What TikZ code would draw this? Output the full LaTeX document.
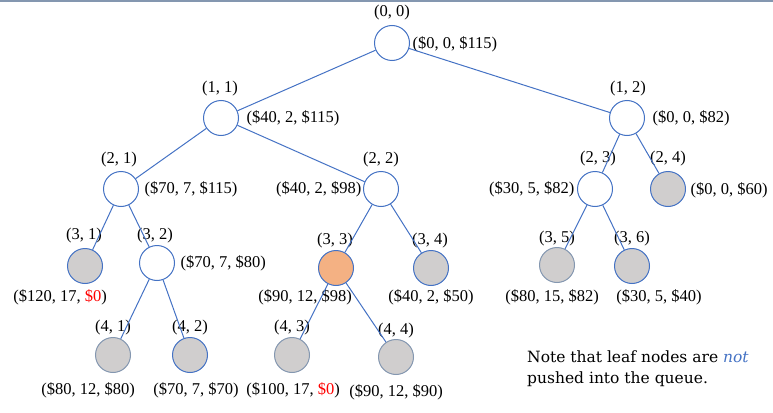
\documentclass[tikz,border=0pt]{standalone}
\usepackage{fontspec}
\setmainfont{Liberation Serif}
\newfontfamily\notefont{DejaVu Serif}
\usetikzlibrary{calc}

\definecolor{edgeblue}{HTML}{4472C4}
\definecolor{leafgray}{HTML}{D0CECE}
\definecolor{bestorange}{HTML}{F4B183}
\definecolor{rimgray}{HTML}{8497B0}

\begin{document}
\begin{tikzpicture}[x=1pt, y=-1pt, font=\fontsize{16.5}{18}\selectfont,
    vtx/.style={circle, draw=edgeblue, line width=1pt, minimum size=35pt, inner sep=0pt},
    open/.style={vtx, fill=white},
    leaf/.style={vtx, fill=leafgray},
    dimleaf/.style={leaf, draw=rimgray},
    best/.style={vtx, fill=bestorange},
    edge/.style={draw=edgeblue, line width=1pt}]

    % --- Frame ---
    \useasboundingbox (0,0) rectangle (773,412);
    \draw[rimgray, line width=2pt] (0,1) -- (773,1);

    % --- Vertices ---
    \node[open] (n00) at (392,43) {};
    \node[open] (n11) at (221,118) {};
    \node[open] (n12) at (627,118) {};
    \node[open] (n21) at (121,189) {};
    \node[open] (n22) at (381,189) {};
    \node[open] (n23) at (595,189) {};
    \node[leaf] (n24) at (668,189) {};
    \node[leaf] (n31) at (85,266) {};
    \node[open] (n32) at (157,263) {};
    \node[best] (n33) at (336,268) {};
    \node[leaf] (n34) at (431,268) {};
    \node[dimleaf] (n35) at (557,265) {};
    \node[leaf] (n36) at (632,266) {};
    \node[dimleaf] (n41) at (113,355) {};
    \node[leaf] (n42) at (190,355) {};
    \node[dimleaf] (n43) at (292,355) {};
    \node[dimleaf] (n44) at (396,357) {};

    % --- Position labels ---
    \node (p00) at (392,13) {(0, 0)};
    \node (p11) at (220,89) {(1, 1)};
    \node (p12) at (628,89) {(1, 2)};
    \node (p21) at (119,160) {(2, 1)};
    \node (p22) at (381,160) {(2, 2)};
    \node (p23) at (598,159) {(2, 3)};
    \node (p24) at (668,159) {(2, 4)};
    \node (p31) at (84,236) {(3, 1)};
    \node (p32) at (155,236) {(3, 2)};
    \node (p33) at (335,241) {(3, 3)};
    \node (p34) at (430,241) {(3, 4)};
    \node (p35) at (557,239) {(3, 5)};
    \node (p36) at (632,239) {(3, 6)};
    \node (p41) at (113,328) {(4, 1)};
    \node (p42) at (190,328) {(4, 2)};
    \node (p43) at (292,328) {(4, 3)};
    \node (p44) at (396,331) {(4, 4)};

    % --- Value labels ---
    \node[anchor=west] (v00) at (409,44) {(\$0, 0, \$115)};
    \node[anchor=west] (v11) at (243,118) {(\$40, 2, \$115)};
    \node[anchor=west] (v12) at (649,118) {(\$0, 0, \$82)};
    \node[anchor=west] (v21) at (141,189) {(\$70, 7, \$115)};
    \node[anchor=east] (v22) at (365,189) {(\$40, 2, \$98)};
    \node[anchor=east] (v23) at (578,189) {(\$30, 5, \$82)};
    \node[anchor=west] (v24) at (687,190) {(\$0, 0, \$60)};
    \node (v31) at (60,297) {(\$120, 17, \textcolor{red}{\$0})};
    \node[anchor=west] (v32) at (177,263) {(\$70, 7, \$80)};
    \node (v33) at (305,297) {(\$90, 12, \$98)};
    \node (v34) at (431,297) {(\$40, 2, \$50)};
    \node (v35) at (552,297) {(\$80, 15, \$82)};
    \node (v36) at (659,297) {(\$30, 5, \$40)};
    \node (v41) at (88,390) {(\$80, 12, \$80)};
    \node (v42) at (196,390) {(\$70, 7, \$70)};
    \node (v43) at (293,390) {(\$100, 17, \textcolor{red}{\$0})};
    \node (v44) at (396,392) {(\$90, 12, \$90)};

    % --- Edges ---
    \path[edge] (n00) -- (n11);
    \path[edge] (n00) -- (n12);
    \path[edge] (n11) -- (n21);
    \path[edge] (n11) -- (n22);
    \path[edge] (n12) -- (n23);
    \path[edge] (n12) -- (n24);
    \path[edge] (n21) -- (n31);
    \path[edge] (n21) -- (n32);
    \path[edge] (n22) -- (n33);
    \path[edge] (n22) -- (n34);
    \path[edge] (n23) -- (n35);
    \path[edge] (n23) -- (n36);
    \path[edge] (n32) -- (n41);
    \path[edge] (n32) -- (n42);
    \path[edge] (n33) -- (n43);
    \path[edge] (n33) -- (n44);

    % --- Note ---
    \node[anchor=north west, align=left, inner sep=0pt,
          font=\notefont\fontsize{15.5}{21}\selectfont] (note) at (527,351)
        {Note that leaf nodes are \textcolor{edgeblue}{\textit{not}}\\pushed into the queue.};

\end{tikzpicture}
\end{document}
